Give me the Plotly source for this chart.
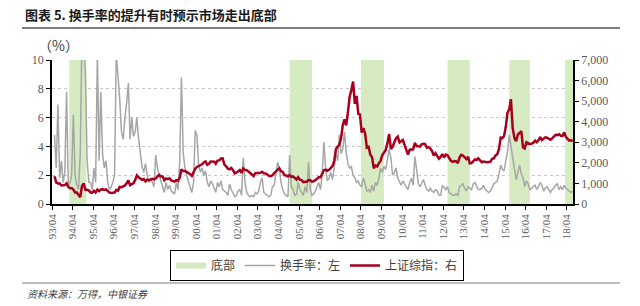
import pandas as pd
import plotly.graph_objects as go

# ---- data (monthly, Apr 1993 - Jun 2018) ----
turnover = [  # 换手率 (%), left axis
    4.8, 2.5, 6.9, 1.8, 3.0, 1.5, 2.2, 7.8, 1.2,
    1.5, 2.0, 6.2, 2.0, 1.3, 1.0, 3.5, 12.0, 11.0, 9.0, 3.0, 1.5,
    1.5, 1.0, 2.5, 1.5, 10.5, 3.0, 7.8, 3.5, 2.5, 3.0, 1.5, 1.0,
    1.2, 1.5, 2.0, 10.5, 8.9, 7.3, 5.0, 4.5, 6.0, 7.0, 8.4, 4.5,
    6.0, 4.7, 5.0, 6.0, 4.5, 3.5, 2.6, 2.2, 2.8, 2.0, 1.5, 1.8,
    1.5, 1.2, 3.4, 2.5, 2.0, 1.5, 1.2, 0.8, 1.5, 1.0, 1.3, 0.9,
    0.8, 0.7, 1.5, 1.0, 3.0, 8.8, 3.6, 2.5, 2.0, 1.5, 1.2, 0.8,
    1.5, 5.1, 4.8, 2.7, 2.2, 2.5, 2.0, 2.3, 1.5, 1.2, 1.6, 1.4,
    1.0, 0.8, 1.5, 1.2, 1.6, 1.0, 0.9, 0.8, 0.6, 1.4, 1.0, 0.7,
    0.5, 0.6, 0.9, 1.0, 0.6, 3.2, 1.5, 0.8, 0.6, 0.5, 0.6, 0.5,
    0.8, 0.7, 0.9, 1.5, 1.8, 0.8, 0.7, 0.6, 0.5, 0.6, 1.2, 1.3,
    2.0, 2.9, 2.5, 1.5, 1.0, 0.7, 0.6, 0.5, 3.4, 1.2, 1.0, 0.6,
    0.7, 1.5, 1.0, 0.8, 0.6, 1.2, 0.8, 2.9, 1.0, 0.6, 0.7, 0.9,
    1.2, 1.5, 1.0, 2.0, 4.3, 2.5, 1.6, 1.8, 2.2, 1.7, 2.5, 3.5,
    3.0, 4.8, 3.5, 3.8, 5.0, 3.6, 2.8, 2.5, 2.6, 2.0, 1.8, 1.5,
    1.6, 1.3, 1.2, 1.8, 1.4, 0.9, 1.0, 0.8, 1.3, 0.9, 1.5, 1.3,
    1.8, 2.5, 2.2, 2.6, 2.4, 3.0, 3.8, 3.2, 2.0, 2.2, 2.5, 1.8,
    1.5, 1.3, 1.6, 1.4, 1.2, 1.0, 1.5, 1.8, 1.3, 3.3, 2.4, 1.4,
    1.2, 1.5, 1.7, 1.3, 1.0, 0.9, 1.1, 0.9, 0.8, 1.0, 0.9, 0.6,
    0.6, 1.3, 1.1, 1.0, 1.2, 0.8, 0.7, 0.6, 0.6, 0.7, 0.6, 1.2,
    1.3, 1.4, 1.1, 0.9, 1.2, 1.1, 1.0, 1.4, 1.5, 1.2, 1.0, 1.0,
    1.1, 1.3, 1.0, 0.9, 0.8, 0.9, 1.2, 1.4, 1.5, 1.6, 2.1, 2.7,
    2.4, 2.3, 3.0, 3.6, 4.8, 4.0, 3.3, 2.5, 1.7, 2.2, 2.7, 2.1,
    1.8, 1.2, 1.6, 1.4, 1.0, 1.1, 1.2, 1.3, 1.0, 1.2, 1.5, 1.3,
    0.9, 1.1, 1.2, 1.0, 0.8, 1.0, 1.1, 1.3, 1.4, 1.0, 1.2, 1.0,
    1.3, 1.1, 1.0, 0.9, 0.8, 0.9,
]

sh_index = [  # 上证综指, right axis
    1350, 1050, 1000, 1000, 900, 910, 920, 1000, 830,
    770, 780, 700, 560, 560, 470, 333, 880, 1000, 690, 690, 650,
    560, 550, 640, 560, 700, 630, 700, 720, 680, 710, 610, 555,
    537, 550, 560, 680, 650, 830, 820, 860, 900, 1010, 1150, 917,
    960, 1010, 1160, 1390, 1300, 1240, 1180, 1210, 1100, 1180, 1150, 1194,
    1220, 1200, 1240, 1340, 1410, 1340, 1340, 1150, 1240, 1210, 1250, 1147,
    1135, 1090, 1160, 1120, 1280, 1690, 1600, 1600, 1560, 1510, 1450, 1367,
    1535, 1715, 1800, 1840, 1895, 1930, 2020, 2070, 1910, 1960, 2070, 2073,
    2060, 1960, 2110, 2120, 2210, 2220, 1920, 1830, 1720, 1690, 1750, 1646,
    1490, 1520, 1600, 1650, 1510, 1730, 1660, 1640, 1580, 1510, 1440, 1358,
    1500, 1510, 1490, 1520, 1570, 1490, 1480, 1420, 1370, 1350, 1400, 1497,
    1590, 1680, 1740, 1590, 1560, 1400, 1390, 1340, 1400, 1320, 1340, 1266,
    1190, 1300, 1180, 1160, 1060, 1080, 1080, 1160, 1155, 1090, 1100, 1161,
    1260, 1300, 1300, 1440, 1640, 1670, 1610, 1660, 1750, 1840, 2100, 2675,
    2790, 2880, 3180, 3840, 4110, 3820, 4470, 5220, 5550, 5950, 4870, 5260,
    4380, 4350, 3470, 3690, 3430, 2740, 2780, 2400, 2290, 1730, 1870, 1820,
    1990, 2080, 2370, 2480, 2630, 2960, 3400, 2670, 2780, 2990, 3200, 3277,
    2990, 3050, 3110, 2870, 2590, 2400, 2640, 2640, 2660, 2980, 2820, 2808,
    2790, 2900, 2930, 2910, 2740, 2760, 2700, 2570, 2360, 2470, 2330, 2199,
    2290, 2430, 2260, 2400, 2370, 2230, 2100, 2050, 2090, 2070, 1980, 2269,
    2390, 2360, 2240, 2180, 2300, 1980, 1990, 2100, 2170, 2140, 2220, 2116,
    2030, 2060, 2030, 2030, 2040, 2050, 2200, 2220, 2360, 2420, 2680, 3234,
    3210, 3310, 3750, 4440, 4600, 5100, 3700, 3200, 3050, 3380, 3450, 3539,
    2740, 2690, 3000, 2940, 2920, 2930, 2980, 3080, 3000, 3100, 3250, 3104,
    3160, 3240, 3220, 3150, 3120, 3190, 3270, 3360, 3350, 3390, 3320, 3307,
    3480, 3260, 3170, 3080, 3095, 3050,
]

band_start = ["1994-02-01", "2004-10-15", "2008-04-01", "2012-06-15", "2015-06-15", "2018-03-01"]
band_end = ["1994-12-01", "2005-11-15", "2009-05-15", "2013-07-15", "2016-06-15", "2018-07-20"]

tick_dates = ["1993-04-01", "1994-04-01", "1995-04-01", "1996-04-01", "1997-04-01",
              "1998-04-01", "1999-04-01", "2000-04-01", "2001-04-01", "2002-04-01",
              "2003-04-01", "2004-04-01", "2005-04-01", "2006-04-01", "2007-04-01",
              "2008-04-01", "2009-04-01", "2010-04-01", "2011-04-01", "2012-04-01",
              "2013-04-01", "2014-04-01", "2015-04-01", "2016-04-01", "2017-04-01",
              "2018-04-01"]
tick_labels = ["93/04", "94/04", "95/04", "96/04", "97/04", "98/04", "99/04", "00/04",
               "01/04", "02/04", "03/04", "04/04", "05/04", "06/04", "07/04", "08/04",
               "09/04", "10/04", "11/04", "12/04", "13/04", "14/04", "15/04", "16/04",
               "17/04", "18/04"]

dates_t = pd.date_range("1993-04-15", periods=len(turnover), freq="MS") + pd.Timedelta(days=14)
dates_s = pd.date_range("1993-04-15", periods=len(sh_index), freq="MS") + pd.Timedelta(days=14)

GREEN = "#d7ebc3"
GRAY = "#a6a6a6"
RED = "#a6001e"
FONT = "Liberation Serif, Noto Sans CJK SC"

# band polygons (left axis 0..10)
bx, by = [], []
for s, e in zip(band_start, band_end):
    bx += [s, e, e, s, s, None]
    by += [0, 0, 10, 10, 0, None]

fig = go.Figure()
fig.add_trace(go.Scatter(x=bx, y=by, fill="toself", fillcolor=GREEN, mode="none",
                         name="底部", hoverinfo="skip", yaxis="y"))
fig.add_trace(go.Scatter(x=dates_t, y=turnover, mode="lines", name="换手率：左",
                         line=dict(color=GRAY, width=1.5), yaxis="y"))
fig.add_trace(go.Scatter(x=dates_s, y=sh_index, mode="lines", name="上证综指：右",
                         line=dict(color=RED, width=2.5), yaxis="y2"))

L, R, T, B = 52, 573, 60, 204
W, H = 640, 306
pw, ph = R - L, B - T


def px(x):
    return (x - L) / pw


def py(y):
    return (B - y) / ph


fig.update_layout(
    width=W, height=H,
    margin=dict(l=L, r=W - R, t=T, b=H - B),
    paper_bgcolor="white", plot_bgcolor="white",
    font=dict(family=FONT, size=12, color="#595959"),
    showlegend=True,
    legend=dict(orientation="h", x=px(317), xanchor="center", y=py(250), yanchor="top",
                bordercolor="black", borderwidth=1, font=dict(size=12, color="#404040"),
                itemwidth=30, tracegroupgap=0, bgcolor="white"),
    xaxis=dict(type="date", range=["1993-04-01", "2018-07-20"],
               tickvals=tick_dates, ticktext=tick_labels, tickangle=-90,
               showline=True, linecolor="black", linewidth=1.5,
               ticks="outside", ticklen=4, tickcolor="black",
               showgrid=False, zeroline=False, tickfont=dict(size=11)),
    yaxis=dict(range=[0, 10], tickvals=[0, 2, 4, 6, 8, 10],
               showline=True, linecolor="black", linewidth=1.5,
               ticks="outside", ticklen=4, tickcolor="black",
               showgrid=True, gridcolor="#c8c8c8", griddash="dot", gridwidth=1,
               zeroline=False, tickfont=dict(size=12)),
    yaxis2=dict(range=[0, 7000], tickvals=[0, 1000, 2000, 3000, 4000, 5000, 6000, 7000],
                tickformat=",", overlaying="y", side="right",
                showline=True, linecolor="black", linewidth=1.5,
                ticks="outside", ticklen=4, tickcolor="black",
                showgrid=False, zeroline=False, tickfont=dict(size=12)),
    title=dict(text="<b>图表 5. 换手率的提升有时预示市场走出底部</b>",
               xref="container", yref="container", x=25 / W, y=1 - 15 / H,
               xanchor="left", yanchor="middle",
               font=dict(size=13, color="#1a1a1a", family="Noto Sans CJK SC")),
    annotations=[
        dict(text="（%）", xref="paper", yref="paper", x=px(36), y=py(45),
             xanchor="left", yanchor="middle", showarrow=False,
             font=dict(size=14, color="#404040", family="Noto Sans CJK SC")),
        dict(text="<i>资料来源：万得，中银证券</i>", xref="paper", yref="paper",
             x=px(25), y=py(294), xanchor="left", yanchor="middle", showarrow=False,
             font=dict(size=10, color="#404040")),
    ],
    shapes=[
        dict(type="line", xref="paper", yref="paper", x0=px(22), x1=px(620),
             y0=py(28), y1=py(28), line=dict(color="#7f7f7f", width=2)),
        dict(type="line", xref="paper", yref="paper", x0=px(22), x1=px(620),
             y0=py(283), y1=py(283), line=dict(color="#7f7f7f", width=1)),
    ],
)

fig.write_html("out.html")
